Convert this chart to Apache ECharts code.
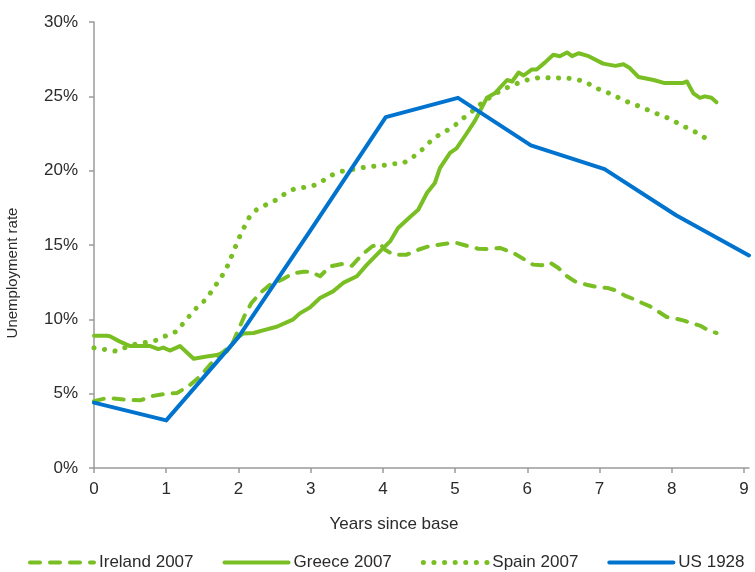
<!DOCTYPE html>
<html>
<head>
<meta charset="utf-8">
<script src="https://cdn.jsdelivr.net/npm/echarts@6/dist/echarts.min.js"></script>
<style>
	html, body { margin: 0; padding: 0; background: #fff; }
	#chart { width: 755px; height: 572px; }
</style>
</head>
<body>
<div id="chart"></div>
<script>
// data: [years since base, unemployment %]
var ireland = [
	[0, 4.5], [0.13, 4.65], [0.22, 4.7], [0.41, 4.6], [0.64, 4.55], [0.82, 4.85], [1.0, 5.0], [1.15, 5.05],
	[1.31, 5.5], [1.47, 6.17], [1.61, 6.96], [1.77, 7.74], [1.91, 8.3], [2.0, 9.3], [2.09, 10.3],
	[2.18, 11.1], [2.3, 11.77], [2.44, 12.33], [2.6, 12.67], [2.76, 13.1], [2.9, 13.2], [3.0, 13.2],
	[3.13, 12.9], [3.27, 13.56], [3.45, 13.74], [3.57, 13.6], [3.71, 14.35], [3.85, 14.9], [3.96, 15.09],
	[4.03, 14.68], [4.15, 14.35], [4.33, 14.35], [4.49, 14.68], [4.63, 14.9], [4.84, 15.07], [5.0, 15.17],
	[5.16, 14.95], [5.32, 14.75], [5.48, 14.73], [5.62, 14.8], [5.81, 14.46], [5.97, 14.0], [6.08, 13.68],
	[6.2, 13.63], [6.31, 13.83], [6.43, 13.45], [6.55, 12.9], [6.66, 12.55], [6.82, 12.33], [6.96, 12.18],
	[7.12, 12.1], [7.22, 11.95], [7.35, 11.6], [7.47, 11.37], [7.59, 11.1], [7.7, 10.87], [7.82, 10.5],
	[7.93, 10.16], [8.07, 10.03], [8.16, 9.93], [8.3, 9.7], [8.39, 9.58], [8.51, 9.26], [8.62, 9.08]
];
var greece = [
	[0, 8.9], [0.18, 8.9], [0.22, 8.86], [0.36, 8.5], [0.5, 8.2], [0.78, 8.2], [0.89, 8.0], [0.96, 8.1],
	[1.05, 7.9], [1.19, 8.2], [1.38, 7.35], [1.56, 7.5], [1.7, 7.6], [1.84, 7.85], [1.98, 8.75], [2.07, 9.05],
	[2.21, 9.08], [2.34, 9.26], [2.53, 9.5], [2.76, 10.0], [2.85, 10.4], [2.99, 10.8], [3.13, 11.44],
	[3.31, 11.88], [3.45, 12.45], [3.64, 12.9], [3.78, 13.68], [3.96, 14.57], [4.1, 15.24], [4.21, 16.14],
	[4.38, 16.9], [4.49, 17.37], [4.61, 18.5], [4.72, 19.17], [4.79, 20.17], [4.93, 21.2], [5.02, 21.5],
	[5.16, 22.5], [5.28, 23.4], [5.44, 24.9], [5.55, 25.2], [5.72, 26.1], [5.79, 26.0], [5.88, 26.6],
	[5.95, 26.4], [6.06, 26.8], [6.13, 26.8], [6.25, 27.3], [6.36, 27.8], [6.45, 27.7], [6.55, 27.95],
	[6.62, 27.7], [6.71, 27.9], [6.85, 27.7], [7.05, 27.2], [7.22, 27.05], [7.33, 27.16], [7.42, 26.9],
	[7.54, 26.3], [7.75, 26.1], [7.89, 25.9], [8.16, 25.9], [8.21, 26.0], [8.3, 25.2], [8.39, 24.9],
	[8.46, 25.0], [8.55, 24.9], [8.62, 24.6]
];
var spain = [
	[0, 8.08], [0.31, 7.85], [0.48, 8.2], [0.61, 8.37], [0.73, 8.45], [0.87, 8.6], [1.0, 8.9], [1.15, 9.2],
	[1.28, 10.0], [1.42, 10.77], [1.54, 11.3], [1.63, 11.9], [1.7, 12.4], [1.78, 12.98], [1.85, 13.6],
	[1.91, 14.3], [1.96, 14.9], [2.02, 15.6], [2.08, 16.2], [2.15, 16.86], [2.25, 17.37], [2.38, 17.7],
	[2.51, 18.0], [2.63, 18.4], [2.76, 18.74], [2.9, 18.87], [3.04, 19.0], [3.17, 19.32], [3.29, 19.7],
	[3.43, 19.95], [3.71, 20.2], [3.85, 20.28], [4.0, 20.35], [4.14, 20.46], [4.28, 20.5], [4.4, 20.85],
	[4.52, 21.3], [4.62, 21.8], [4.73, 22.26], [4.85, 22.6], [4.98, 22.97], [5.09, 23.45], [5.21, 23.87],
	[5.32, 24.36], [5.53, 25.1], [5.67, 25.48], [5.81, 25.77], [5.95, 26.04], [6.08, 26.2], [6.22, 26.29],
	[6.36, 26.2], [6.51, 26.26], [6.66, 26.15], [6.8, 26.0], [6.93, 25.6], [7.05, 25.37], [7.19, 25.1],
	[7.32, 24.76], [7.46, 24.5], [7.59, 24.25], [7.72, 23.98], [7.86, 23.7], [7.99, 23.47], [8.12, 23.08],
	[8.25, 22.8], [8.38, 22.46], [8.5, 22.08]
];
var us1928 = [
	[0, 4.4], [1, 3.2], [2, 8.8], [3, 16.0], [4.04, 23.6], [5.04, 24.9], [6.05, 21.7], [7.07, 20.1],
	[8.06, 17.0], [9.07, 14.3]
];
var xTicks = [0, 1, 2, 3, 4, 5, 6, 7, 8, 9];

var green = '#79bf24';
var blue = '#0073cf';
var txt = '#2b2b2b';
var font = 'Liberation Sans';

var dashed = [10, 10];
var dotted = [0.1, 10.5];

var chart = echarts.init(document.getElementById('chart'));

function lineSeries(name, data, color, dash, width) {
	return {
		name: name,
		type: 'line',
		data: data,
		symbol: 'none',
		smooth: false,
		lineStyle: { color: color, width: width, type: dash, cap: 'round', join: 'round' },
		itemStyle: { color: color }
	};
}

function legendItem(name, color, dash, width) {
	return {
		name: name,
		itemStyle: { opacity: 0 },
		lineStyle: { color: color, width: width, type: dash, cap: 'round' }
	};
}

chart.setOption({
	animation: false,
	grid: { left: 94, right: 6, top: 22, bottom: 104, containLabel: false, outerBoundsMode: 'none' },
	legend: {
		top: 554,
		left: 28,
		padding: 0,
		itemWidth: 64,
		itemHeight: 14,
		itemGap: 29,
		textStyle: { color: txt, fontSize: 17, fontFamily: font },
		data: [
			legendItem('Ireland 2007', green, dashed, 4),
			legendItem('Greece 2007', green, 'solid', 4),
			legendItem('Spain 2007', green, dotted, 5),
			legendItem('US 1928', blue, 'solid', 4)
		]
	},
	xAxis: {
		type: 'value',
		min: 0,
		max: 9.07,
		name: 'Years since base',
		nameLocation: 'middle',
		nameGap: 48,
		nameTextStyle: { color: txt, fontSize: 17, fontFamily: font, padding: [0, 55, 0, 0] },
		axisLine: { lineStyle: { color: '#9a9a9a', width: 1.5 } },
		axisTick: { show: true, length: 5, customValues: xTicks, lineStyle: { color: '#9a9a9a', width: 1.5 } },
		axisLabel: { customValues: xTicks, margin: 13, color: txt, fontSize: 17, fontFamily: font },
		splitLine: { show: false }
	},
	yAxis: {
		type: 'value',
		min: 0,
		max: 30,
		interval: 5,
		name: 'Unemployment rate',
		nameLocation: 'middle',
		nameRotate: 90,
		nameGap: 74,
		nameTextStyle: { color: txt, fontSize: 15, fontFamily: font, padding: [0, 56, 0, 0] },
		axisLine: { show: true, lineStyle: { color: '#9a9a9a', width: 1.5 } },
		axisTick: { show: true, length: 5, lineStyle: { color: '#9a9a9a', width: 1.5 } },
		axisLabel: { formatter: '{value}%', margin: 16, color: txt, fontSize: 17, fontFamily: font },
		splitLine: { show: false }
	},
	series: [
		lineSeries('Ireland 2007', ireland, green, dashed, 4),
		lineSeries('Greece 2007', greece, green, 'solid', 4),
		lineSeries('Spain 2007', spain, green, dotted, 5),
		lineSeries('US 1928', us1928, blue, 'solid', 4)
	]
});
</script>
</body>
</html>
